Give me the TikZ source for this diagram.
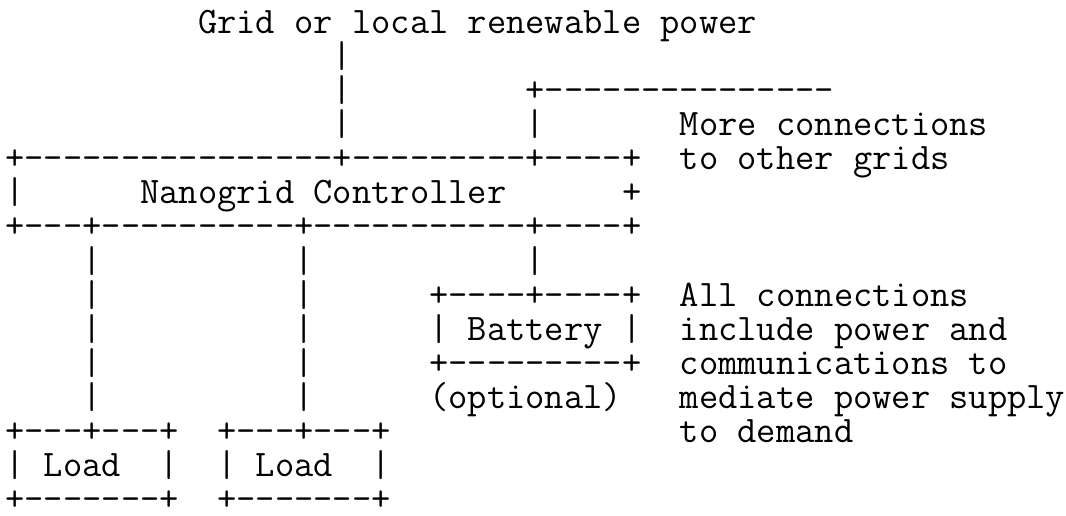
\documentclass[tikz,border=0pt]{standalone}
\ExplSyntaxOn
\cs_new:Npn \Dsh #1 { \prg_replicate:nn {#1} { -\kern0pt } }
\ExplSyntaxOff
\newlength\cw \newlength\ph \newlength\pd
\def\fs{36.5}
\def\pc{9}
\tikzset{asc/.style={anchor=base west, inner sep=0pt, outer sep=0pt,
  font=\ttfamily\fontsize{\fs pt}{\fs pt}\selectfont, text=black}}
% column c, line k: '+' centre of line k at 23.5+34.1(k-1) px from the top
\newcommand\At[4]{\node[asc] (#1) at ({5.4+19.27*#2},{516-23.5-\pc-34.1*(#3-1)}) {#4};}
\begin{document}
\settowidth{\cw}{\ttfamily\fontsize{36.5pt}{36.5pt}\selectfont +}%
\pgfmathsetmacro\fs{36.5*19.27/\cw}%
\settoheight{\ph}{\ttfamily\fontsize{\fs pt}{\fs pt}\selectfont +}%
\settodepth{\pd}{\ttfamily\fontsize{\fs pt}{\fs pt}\selectfont +}%
\pgfmathsetmacro\pc{(\ph-\pd)/2}%
\begin{tikzpicture}[x=1pt,y=1pt]
\useasboundingbox[fill=white] (0,0) rectangle (1066,516);
% line 1
\At{src}{10}{1}{Grid or local renewable power}
% lines 2-4
\At{v2}{17}{2}{|}
\At{v3}{17}{3}{|}
\At{ext}{27}{3}{+\Dsh{15}}
\At{v4}{17}{4}{|}
\At{e4}{27}{4}{|}
\At{more}{35}{4}{More connections}
% controller box
\At{ctop}{0}{5}{+\Dsh{16}+\Dsh{9}+\Dsh{4}+}
\At{other}{35}{5}{to other grids}
\At{cl}{0}{6}{|}
\At{ctrl}{7}{6}{Nanogrid Controller}
\At{cr}{32}{6}{+}
\At{cbot}{0}{7}{+\Dsh{3}+\Dsh{10}+\Dsh{11}+\Dsh{4}+}
% drops
\At{a8}{4}{8}{|}\At{b8}{15}{8}{|}\At{c8}{27}{8}{|}
\At{a9}{4}{9}{|}\At{b9}{15}{9}{|}
\At{a10}{4}{10}{|}\At{b10}{15}{10}{|}
\At{a11}{4}{11}{|}\At{b11}{15}{11}{|}
\At{a12}{4}{12}{|}\At{b12}{15}{12}{|}
% battery
\At{btop}{22}{9}{+\Dsh{4}+\Dsh{4}+}
\At{bl}{22}{10}{|}
\At{bat}{24}{10}{Battery}
\At{br}{32}{10}{|}
\At{bbot}{22}{11}{+\Dsh{9}+}
\At{opt}{22}{12}{(optional)}
% note
\At{n1}{35}{9}{All connections}
\At{n2}{35}{10}{include power and}
\At{n3}{35}{11}{communications to}
\At{n4}{35}{12}{mediate power supply}
\At{n5}{35}{13}{to demand}
% loads
\At{lat}{0}{13}{+\Dsh{3}+\Dsh{3}+}
\At{lbt}{11}{13}{+\Dsh{3}+\Dsh{3}+}
\At{lal}{0}{14}{|}\At{la}{2}{14}{Load}\At{lar}{8}{14}{|}
\At{lbl}{11}{14}{|}\At{lb}{13}{14}{Load}\At{lbr}{19}{14}{|}
\At{lab}{0}{15}{+\Dsh{7}+}
\At{lbb}{11}{15}{+\Dsh{7}+}
\end{tikzpicture}
\end{document}
